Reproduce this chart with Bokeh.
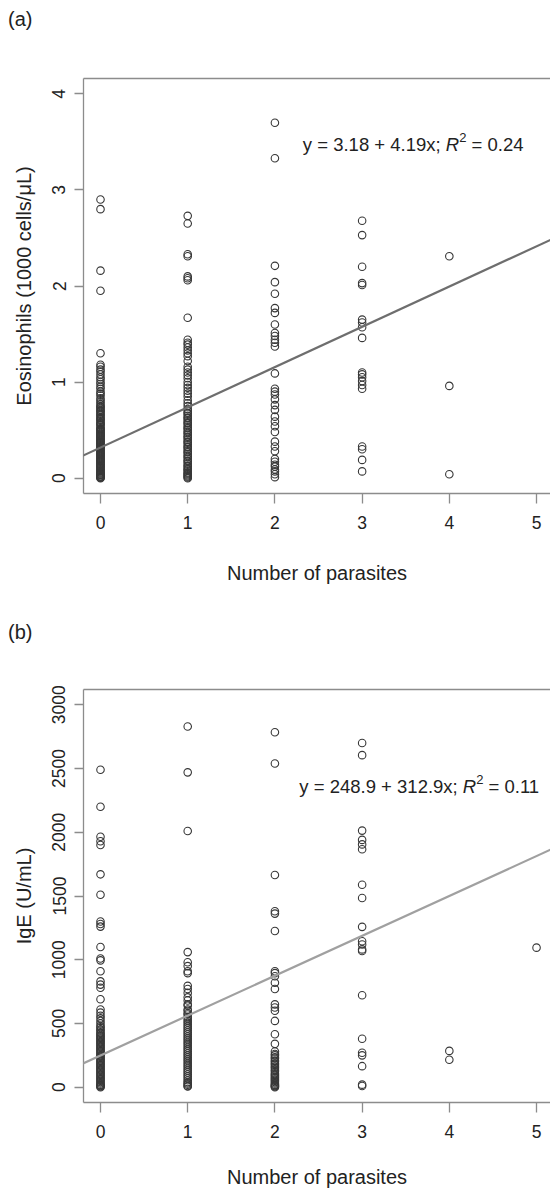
from bokeh.plotting import figure
from bokeh.models import Range1d, FixedTicker, LinearAxis, Slope
from bokeh.layouts import column
from bokeh.embed import file_html
from bokeh.resources import INLINE
from bokeh.core.properties import value

FONT = "Liberation Sans"

# ---------------- data ----------------
x_ticks = [0, 1, 2, 3, 4, 5]
eos_ticks = [0, 1, 2, 3, 4]
ige_ticks = [0, 500, 1000, 1500, 2000, 2500, 3000]

x_title = "Number of parasites"
eos_title = "Eosinophils (1000 cells/\u03bcL)"
ige_title = "IgE (U/mL)"
tags = ["(a)", "(b)"]

# Eosinophils (1000 cells/uL) by number of parasites
eos_p0 = [2.90, 2.80, 2.16, 1.95, 1.30, 1.18, 1.16, 1.13, 1.11, 1.08, 1.05, 1.03, 1.00,
          0.98, 0.95, 0.93, 0.90, 0.88, 0.86, 0.83, 0.81, 0.79, 0.77, 0.75, 0.73, 0.71,
          0.69, 0.67, 0.65, 0.63, 0.61, 0.60, 0.58, 0.56, 0.55, 0.53, 0.51, 0.50, 0.48,
          0.47, 0.45, 0.44, 0.42, 0.41, 0.39, 0.38, 0.36, 0.35, 0.33, 0.32, 0.30, 0.29,
          0.27, 0.26, 0.24, 0.23, 0.21, 0.20, 0.18, 0.17, 0.15, 0.14, 0.12, 0.11, 0.09,
          0.08, 0.06, 0.05, 0.04, 0.03, 0.02, 0.01, 0.00, 0.74, 0.70, 0.66, 0.62, 0.57,
          0.52, 0.49, 0.46, 0.43, 0.40, 0.37, 0.34, 0.31, 0.28, 0.25, 0.22, 0.19, 0.16,
          0.13, 0.10, 0.07, 0.035, 0.015, 0.005]
eos_p1 = [2.73, 2.65, 2.33, 2.31, 2.10, 2.08, 2.06, 1.67, 1.44, 1.41, 1.39, 1.36, 1.33,
          1.30, 1.27, 1.22, 1.16, 1.13, 1.10, 1.07, 1.04, 1.00, 0.97, 0.94, 0.91, 0.88,
          0.85, 0.81, 0.78, 0.75, 0.72, 0.70, 0.67, 0.65, 0.62, 0.60, 0.57, 0.55, 0.52,
          0.50, 0.47, 0.45, 0.42, 0.40, 0.37, 0.35, 0.32, 0.30, 0.27, 0.25, 0.22, 0.20,
          0.17, 0.15, 0.12, 0.10, 0.08, 0.06, 0.04, 0.02, 0.00, 0.68, 0.63, 0.58, 0.53,
          0.48, 0.43, 0.38, 0.33, 0.28, 0.23, 0.18, 0.13, 0.09, 0.05, 0.03, 0.01]
eos_p2 = [3.70, 3.33, 2.21, 2.04, 1.92, 1.77, 1.72, 1.60, 1.51, 1.48, 1.44, 1.41, 1.37,
          1.09, 0.93, 0.90, 0.87, 0.82, 0.76, 0.71, 0.64, 0.59, 0.54, 0.48, 0.38, 0.33,
          0.28, 0.20, 0.17, 0.14, 0.12, 0.09, 0.07, 0.04, 0.01]
eos_p3 = [2.68, 2.53, 2.20, 2.03, 2.01, 1.65, 1.62, 1.57, 1.46, 1.10, 1.08, 1.05, 1.01,
          0.97, 0.93, 0.33, 0.30, 0.19, 0.07]
eos_p4 = [2.31, 0.96, 0.04]
eos_groups = [eos_p0, eos_p1, eos_p2, eos_p3, eos_p4]
eos_intercept, eos_slope = 0.318, 0.419
eos_eq = ["y = 3.18 + 4.19x;", "R", "2", "= 0.24"]

# IgE (U/mL) by number of parasites
ige_p0 = [2490, 2200, 1965, 1930, 1900, 1670, 1510, 1300, 1280, 1260, 1100, 1010, 995,
          910, 830, 805, 780, 690, 610, 585, 560, 520, 500, 480, 455, 430, 410, 390, 370,
          350, 330, 310, 290, 270, 250, 230, 210, 190, 170, 150, 130, 110, 90, 70, 50,
          30, 15, 5, 540, 470, 445, 420, 400, 380, 360, 340, 320, 300, 280, 260, 240,
          220, 200, 180, 160, 140, 120, 100, 80, 60, 40, 20, 10, 0]
ige_p1 = [2830, 2470, 2010, 1060, 980, 950, 910, 895, 795, 770, 740, 705, 680, 640, 610,
          580, 550, 520, 490, 460, 430, 400, 370, 340, 310, 280, 250, 220, 190, 160, 130,
          100, 70, 40, 20, 5, 650, 600, 570, 535, 505, 475, 445, 415, 385, 355, 325, 295,
          265, 235, 205, 175, 145, 115, 85, 55, 30, 10]
ige_p2 = [2785, 2540, 1665, 1380, 1362, 1225, 910, 895, 870, 820, 770, 650, 625, 600, 520,
          415, 340, 260, 235, 210, 185, 160, 135, 110, 90, 70, 50, 30, 15, 5, 280, 250,
          225, 200, 175, 150, 125, 100, 80, 60, 40, 20, 10, 0]
ige_p3 = [2700, 2605, 2013, 1940, 1905, 1867, 1588, 1484, 1258, 1145, 1120, 1081, 1068,
          721, 380, 270, 250, 165, 20, 10]
ige_p4 = [285, 215]
ige_p5 = [1095]
ige_groups = [ige_p0, ige_p1, ige_p2, ige_p3, ige_p4, ige_p5]
ige_intercept, ige_slope = 248.9, 312.9
ige_eq = ["y = 248.9 + 312.9x;", "R", "2", "= 0.11"]

AX = "#8c8c8c"
TXT = "#222222"
X_START, X_END = -0.195, 5.16


def tag_strip(tag, height, tick):
    # thin strip whose left axis carries the panel tag as its only tick label
    t = figure(width=550, height=height, output_backend="svg", toolbar_location=None,
               x_range=Range1d(0, 1), y_range=Range1d(height, 0),
               x_axis_type=None, y_axis_location="left", min_border=0,
               min_border_left=83)
    t.grid.visible = False
    t.outline_line_color = None
    ax = t.yaxis[0]
    ax.ticker = FixedTicker(ticks=[tick])
    ax.major_label_overrides = {tick: tag}
    ax.axis_line_color = None
    ax.major_tick_line_color = None
    ax.minor_tick_line_color = None
    ax.major_tick_out = 0
    ax.major_tick_in = 0
    ax.major_label_standoff = 51
    ax.major_label_orientation = "horizontal"
    ax.major_label_text_font = FONT
    ax.major_label_text_font_size = "20px"
    ax.major_label_text_color = TXT
    return t


def panel(groups, y_range, y_ticks, y_title, intercept, slope, line_color,
          eq, eq_x, eq_y, eq_offsets, height, top, bottom, xt_standoff):
    p = figure(width=550, height=height, output_backend="svg", toolbar_location=None,
               x_range=Range1d(X_START, X_END), y_range=Range1d(*y_range),
               min_border_left=83, min_border_right=0, min_border_top=top,
               min_border_bottom=bottom)
    p.grid.visible = False
    p.outline_line_color = None
    p.background_fill_color = "white"

    xs, ys = [], []
    for k, g in enumerate(groups):
        xs += [k] * len(g)
        ys += list(g)
    p.scatter(xs, ys, marker="circle", size=7.5, fill_color=None,
              line_color="#383838", line_width=1.1)

    p.add_layout(Slope(gradient=slope, y_intercept=intercept,
                       line_color=line_color, line_width=2.2))

    p.xaxis.ticker = FixedTicker(ticks=x_ticks)
    p.yaxis.ticker = FixedTicker(ticks=y_ticks)
    p.xaxis.axis_label = x_title
    p.yaxis.axis_label = y_title
    p.yaxis.major_label_orientation = "vertical"
    for ax in (p.xaxis, p.yaxis):
        ax.axis_line_color = AX
        ax.axis_line_width = 1.3
        ax.major_tick_line_color = AX
        ax.major_tick_line_width = 1.3
        ax.minor_tick_line_color = None
        ax.major_tick_in = 0
        ax.major_label_text_font = FONT
        ax.major_label_text_font_size = "17.5px"
        ax.major_label_text_color = TXT
        ax.axis_label_text_font = FONT
        ax.axis_label_text_font_size = "20px"
        ax.axis_label_text_font_style = "normal"
        ax.axis_label_text_color = TXT
    p.xaxis.major_tick_out = 10
    p.yaxis.major_tick_out = 9
    p.xaxis.major_label_standoff = 12
    p.yaxis.major_label_standoff = 9
    p.xaxis.axis_label_standoff = xt_standoff
    p.yaxis.axis_label_standoff = 15

    top_axis = LinearAxis(ticker=FixedTicker(ticks=[]), axis_line_color=AX,
                          axis_line_width=1.3, major_tick_line_color=None,
                          minor_tick_line_color=None, major_label_text_font_size="0px")
    p.add_layout(top_axis, "above")

    o1, o2, o3 = eq_offsets
    common = dict(text_font=value(FONT), text_color=TXT, text_baseline="middle",
                  text_align="left")
    p.text([eq_x], [eq_y], text=[eq[0]], text_font_size=value("18.5px"), **common)
    p.text([eq_x], [eq_y], text=[eq[1]], x_offset=o1, text_font_size=value("18.5px"),
           text_font_style="italic", **common)
    p.text([eq_x], [eq_y], text=[eq[2]], x_offset=o2, y_offset=-7,
           text_font_size=value("13px"), **common)
    p.text([eq_x], [eq_y], text=[eq[3]], x_offset=o3, text_font_size=value("18.5px"),
           **common)
    return p


tag_a = tag_strip(tags[0], 40, 18)
pa = panel(eos_groups, (-0.16, 4.16), eos_ticks, eos_title, eos_intercept, eos_slope,
           "#6e6e6e", eos_eq, 2.32, 3.47, (143.0, 156.4, 168.7),
           560, 38, 107, 30)
tag_b = tag_strip(tags[1], 60, 31)
pb = panel(ige_groups, (-120, 3120), ige_ticks, ige_title, ige_intercept, ige_slope,
           "#a0a0a0", ige_eq, 2.28, 2356, (163.5, 176.9, 189.2),
           530, 29, 87, 25)

layout = column(tag_a, pa, tag_b, pb)
open("out.html", "w").write(file_html(layout, INLINE))
